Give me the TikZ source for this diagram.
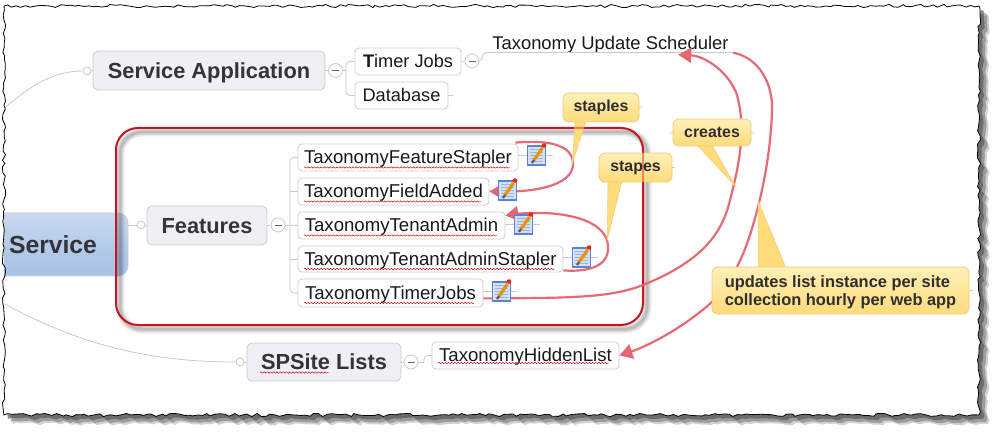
\documentclass[tikz,border=0pt]{standalone}
\usepackage{fontspec}
\setmainfont{Liberation Sans}
\usetikzlibrary{arrows.meta,decorations.pathmorphing,calc}
\definecolor{wirec}{HTML}{C9C9C9}
\definecolor{redarrow}{HTML}{E4636F}
\definecolor{framered}{HTML}{C8141E}
\definecolor{txt}{HTML}{333338}
\definecolor{svctop}{HTML}{C9DAF0}
\definecolor{svcmid}{HTML}{B4CBE9}
\definecolor{svcbot}{HTML}{A8C2E5}
\definecolor{topicfill}{HTML}{EFEFF5}
\definecolor{notetop}{HTML}{FFF0B8}
\definecolor{notebot}{HTML}{FFDB7A}
\definecolor{noteedge}{HTML}{E9CB7C}
\definecolor{iconedge}{HTML}{5B82D6}
\definecolor{iconfill}{HTML}{D3E0F6}
\definecolor{iconline}{HTML}{9FB3D8}
\tikzset{
  x=1pt,y=-1pt,
  wire/.style={draw=wirec,line width=.8pt},
  topic/.style={draw=black!20,line width=.8pt,fill=topicfill,rounded corners=5pt,inner sep=0pt,text=txt,text height=15.7pt,text depth=0pt,font=\fontsize{21.8}{24}\selectfont\bfseries},
  leaf/.style={draw=black!20,line width=.8pt,fill=white,rounded corners=4pt,inner sep=0pt,text=black!90,text height=12pt,text depth=0pt,font=\fontsize{18.2}{20}\selectfont},
  taxleaf/.style={leaf,font=\fontsize{18.6}{20}\selectfont},
  plain/.style={inner sep=0pt,text=black!90,text height=13.2pt,text depth=0pt,font=\fontsize{18.4}{20}\selectfont},
  central/.style={draw=black!18,line width=.8pt,top color=svctop,bottom color=svcbot,middle color=svcmid,rounded corners=10pt,inner sep=0pt,text=txt,text height=17.8pt,text depth=0pt,font=\fontsize{24.7}{26}\selectfont\bfseries},
  joint/.style={circle,draw=wirec,fill=white,line width=.8pt,minimum size=8pt,inner sep=0pt},
  collapse/.style={circle,draw=wirec,fill=white,line width=.8pt,minimum size=14pt,inner sep=0pt,
    path picture={\draw[black!60,line width=.9pt] ($(path picture bounding box.center)+(-3.5,0)$) -- ($(path picture bounding box.center)+(3.5,0)$);}},
  note/.style={draw=noteedge,line width=.8pt,top color=notetop,bottom color=notebot,rounded corners=6pt,inner sep=0pt,text=black!82,font=\fontsize{15.9}{19}\selectfont\bfseries},
  notestub/.style={draw=noteedge,line width=.8pt},
  tail/.style={fill=notebot,draw=noteedge,line width=.4pt},
  link/.style={draw=redarrow,line width=2.2pt,-{Triangle[length=13pt,width=15pt]},opacity=.95},
  iconbox/.style={minimum width=19pt,minimum height=20pt,inner sep=0pt},
  squig/.style={draw=red!75!black,line width=.45pt,decorate,decoration={snake,segment length=3.2pt,amplitude=.7pt}},
  torn/.style={decorate,decoration={random steps,segment length=4.5pt,amplitude=1.6pt}},
  pencil/.pic={
    \draw[draw=iconedge,fill=iconfill,line width=1.3pt] (-9,-9) rectangle (9,10);
    \foreach \yy in {-6,-3,0,3,6}{\draw[iconline,line width=.8pt] (-6.5,\yy) -- (6.5,\yy);}
    \draw[orange!70!yellow!90!black,line width=3.2pt] (-2.5,5) -- (6,-7);
    \draw[black!65,line width=2.2pt] (-4.5,8) -- (-2.5,5);
    \fill[red!75!orange] (7.5,-9.5) circle (2.3pt);
  }
}
\begin{document}
\begin{tikzpicture}
\clip (0,0) rectangle (1000,438);
\fill[white] (0,0) rectangle (1000,438);
% paper shadow
\pgfmathsetseed{7}
\fill[black!70,opacity=.25,torn] (13,15) rectangle (988,424);
\pgfmathsetseed{7}
\fill[black!70,opacity=.4,torn] (11,13) rectangle (986,422);
\pgfmathsetseed{7}
\fill[black!70,opacity=.6,torn] (8,10) rectangle (983,419);
\pgfmathsetseed{7}
\fill[white,torn] (4,6) rectangle (979,415);

% nodes
\node[central,minimum width=150pt,minimum height=63pt] (svc) at (53,244.5) {Service};
\node[topic,minimum width=232pt,minimum height=39pt] (app) at (209,70.5) {Service Application};
\node[topic,minimum width=120pt,minimum height=39pt] (feat) at (207,225.5) {Features};
\node[topic,minimum width=154pt,minimum height=38pt] (lists) at (324,362) {SPSite Lists};
\node[joint] (j1) at (87,71) {};
\node[joint] (j2) at (141,225) {};
\node[joint] (j3) at (240,362) {};
\node[collapse] (c1) at (335.5,70.5) {};
\node[collapse] (c2) at (278,225) {};
\node[collapse] (c3) at (472,61) {};
\node[collapse] (c4) at (411,362) {};
\node[leaf,minimum width=106pt,minimum height=27pt] (timer) at (408,61.5) {\textbf{T}imer Jobs};
\node[leaf,minimum width=93pt,minimum height=27pt] (db) at (401.5,95.5) {Database};
\node[plain,minimum width=251pt,minimum height=20pt] (sched) at (610.5,42.5) {Taxonomy Update Scheduler};
\node[taxleaf,minimum width=220pt,minimum height=27pt] (tfs) at (408,157.5) {TaxonomyFeatureStapler\hspace{2pt}};
\node[taxleaf,minimum width=191pt,minimum height=27pt] (tfa) at (393.5,191.5) {TaxonomyFieldAdded\hspace{2pt}};
\node[taxleaf,minimum width=207pt,minimum height=27pt] (tta) at (401.5,225.5) {TaxonomyTenantAdmin\hspace{2pt}};
\node[taxleaf,minimum width=265pt,minimum height=26pt] (ttas) at (430.5,259) {TaxonomyTenantAdminStapler\hspace{2pt}};
\node[taxleaf,minimum width=185pt,minimum height=28pt] (ttj) at (390.5,293) {TaxonomyTimerJobs\hspace{2pt}};
\node[taxleaf,minimum width=187pt,minimum height=27pt] (hid) at (525.5,355.5) {TaxonomyHiddenList\hspace{2pt}};
\node[iconbox] (i1) at (536.5,155) {};
\node[iconbox] (i2) at (507.5,190) {};
\node[iconbox] (i3) at (523.5,224) {};
\node[iconbox] (i4) at (581.5,257) {};
\node[iconbox] (i5) at (501.5,291) {};

% wires
\coordinate (edgeA) at (5,108);
\coordinate (edgeB) at (5,304);
\draw[wire] (edgeA) .. controls (30,85) and (55,71) .. (j1.west);
\draw[wire] (j1.east) -- (app.west);
\draw[wire] (edgeB) .. controls (80,345) and (150,362) .. (j3.west);
\draw[wire] (j3.east) -- (lists.west);
\draw[wire] (svc.east |- j2.west) -- (j2.west);
\draw[wire] (j2.east) -- (feat.west);
\draw[wire] (app.east) -- (c1.west);
\draw[wire] (feat.east) -- (c2.west);
\draw[wire] (lists.east) -- (c4.west);
\draw[wire] (timer.east) -- (c3.west);
\coordinate (b1) at (346,70.5);
\coordinate (b2) at (290,225);
\coordinate (b4) at (424,362);
\draw[wire] (c1.east) -- (b1);
\draw[wire,rounded corners=4pt] (b1) |- (timer.west);
\draw[wire,rounded corners=4pt] (b1) |- (db.west);
\draw[wire] (c2.east) -- (b2);
\draw[wire,rounded corners=4pt] (b2) |- (tfs.west);
\draw[wire] (b2 |- tfa.west) -- (tfa.west);
\draw[wire] (b2) -- (tta.west);
\draw[wire] (b2 |- ttas.west) -- (ttas.west);
\draw[wire,rounded corners=4pt] (b2) |- (ttj.west);
\draw[wire] (c4.east) -- (b4);
\draw[wire,rounded corners=4pt] (b4) |- (hid.west);
\draw[wire,rounded corners=4pt] (c3.east) -- ($(c3.east)+(3,0)$) |- (sched.south west);
\draw[wire] (sched.south west) -- (sched.south east);
\coordinate (dbstub) at (453,95.5);
\draw[wire] (db.east) -- (dbstub);
\coordinate (s1) at (553,155);
\coordinate (s2) at (524,190);
\coordinate (s3) at (540,224);
\coordinate (s4) at (598,257);
\coordinate (s5) at (517,291);
\draw[wire] (tfs.east |- i1) -- (s1);
\draw[wire] (tfa.east |- i2) -- (s2);
\draw[wire] (tta.east |- i3) -- (s3);
\draw[wire] (ttas.east |- i4) -- (s4);
\draw[wire] (ttj.east |- i5) -- (s5);

% spell-check underlines
\draw[squig] (304,167.5) -- (510,167.5);
\draw[squig] (304,201.5) -- (481,201.5);
\draw[squig] (304,235.5) -- (497,235.5);
\draw[squig] (304,269) -- (555,269);
\draw[squig] (304,303) -- (474,303);
\draw[squig] (438,363) -- (609,363);
\draw[squig] (260,372.5) -- (329,372.5);

% frame
\foreach \w/\o in {9/.07,6/.09,3/.12}{
  \draw[black,opacity=\o,line width=\w pt,rounded corners=22pt] (120,132) rectangle (647,329);
}
\node[draw=framered,line width=2pt,rounded corners=22pt,minimum width=527pt,minimum height=197pt,inner sep=0pt] (fr) at (379.5,226.5) {};

% arrows
\draw[link] ([xshift=-3pt,yshift=1pt]tfs.north east) .. controls (535,141) and (572,140) .. (573,163)
   .. controls (574,182) and (545,192) .. (tfa.east);
\draw[link] ([yshift=2pt]ttas.south east) .. controls (585,272) and (609,268) .. (608,247)
   .. controls (608,222) and (570,212) .. (533,213) .. controls (525,213) and (515,214) .. ([yshift=10pt]tta.east);
\draw[link] ([yshift=9pt]ttj.south east) .. controls (570,298) and (610,298) .. (643,285)
   .. controls (700,262) and (722,235) .. (730,200)
   .. controls (742,155) and (745,125) .. (737,95) .. controls (729,72) and (705,56) .. ([xshift=-58pt,yshift=-2pt]sched.south east);
\draw[link] ([xshift=-3pt]sched.south east) .. controls (760,58) and (773,85) .. (772,110)
   .. controls (771,150) and (763,190) .. (755,218)
   .. controls (745,255) and (730,290) .. (700,312) .. controls (675,332) and (645,347) .. (hid.east);

% icons
\pic at (i1) {pencil};
\pic at (i2) {pencil};
\pic at (i3) {pencil};
\pic at (i4) {pencil};
\pic at (i5) {pencil};

% callouts
\coordinate (t1) at (572,165);
\coordinate (t2) at (607,241);
\coordinate (t3) at (736,187);
\coordinate (t4) at (758,200);
\fill[tail] (575,121) -- (t1) -- (586,121) -- cycle;
\fill[tail] (608,181) -- (t2) -- (622,181) -- cycle;
\fill[tail] (697,145) -- (t3) -- (712,145) -- cycle;
\fill[tail] (758,268) -- (t4) -- (786,268) -- cycle;
\coordinate (n1s) at (642,107);
\coordinate (n2s) at (675,167);
\coordinate (n3l) at (670,132.5);
\coordinate (n3r) at (754,132.5);
\coordinate (n4s) at (973,290);
\draw[notestub] (n1s) -- (639,107);
\draw[notestub] (n2s) -- (672,167);
\draw[notestub] (n3l) -- (n3r);
\draw[notestub] (n4s) -- (970,290);
\node[note,minimum width=76pt,minimum height=29pt] (staples) at (601,107.5) {staples};
\node[note,minimum width=73pt,minimum height=29pt] (stapes) at (635.5,167.5) {stapes};
\node[note,minimum width=78pt,minimum height=27pt] (creates) at (712,132.5) {creates};
\node[note,minimum width=257pt,minimum height=47pt,align=left,text depth=0pt] (upd) at (840.5,290.5) {\fontsize{16.4}{18.5}\selectfont updates list instance per site\\[-.5pt]\fontsize{16.4}{18.5}\selectfont collection hourly per web app};

% frame seen through the callouts
\begin{scope}
\clip (599,150) rectangle (672,183) (575,120) rectangle (586,140);
\draw[framered,opacity=.45,line width=2pt,rounded corners=22pt] (116,128) rectangle (643,325);
\end{scope}

% left torn edge
\fill[white] (-30,190) rectangle (3.5,300);
\pgfmathsetseed{7}
\draw[black,line width=.8pt,torn] (4,6) rectangle (979,415);
\end{tikzpicture}
\end{document}
